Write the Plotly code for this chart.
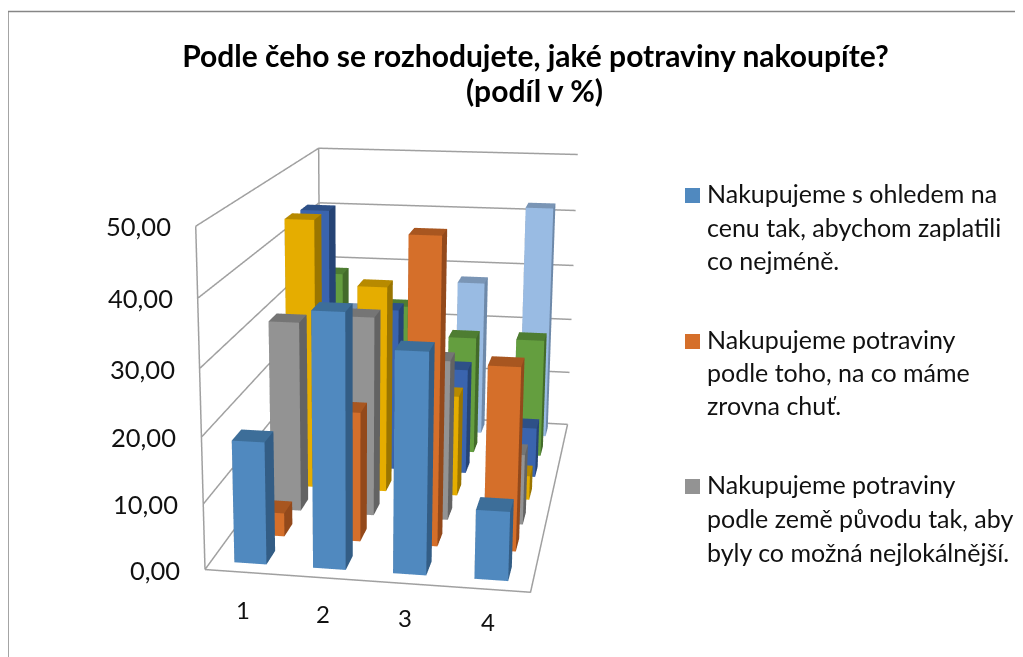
import plotly.graph_objects as go

W, H = 1015, 649   # the page adds an 8 px margin round the figure
OX, OY = 8, 8
categories = ["1", "2", "3", "4"]
blue = [18.6, 38.1, 33.0, 10.4]
orange = [3.7, 20.2, 47.0, 28.3]
gray = [30.6, 31.9, 25.6, 11.3]
yellow = [44.5, 34.1, 16.7, 4.0]
dark_blue = [44.0, 27.7, 18.0, 8.5]
green = [31.0, 25.7, 20.6, 20.7]
light_blue = [22.0, 16.0, 27.8, 41.6]
z_ticks = [0, 10, 20, 30, 40, 50]
title_line1 = "Podle čeho se rozhodujete, jaké potraviny nakoupíte?"
title_line2 = "(podíl v %)"
legend_groups = [
    ["Nakupujeme s ohledem na", "cenu tak, abychom zaplatili", "co nejméně."],
    ["Nakupujeme potraviny", "podle toho, na co máme", "zrovna chuť."],
    ["Nakupujeme potraviny", "podle země původu tak, aby", "byly co možná nejlokálnější."],
]
rows = [blue, orange, gray, yellow, dark_blue, green, light_blue]
front = ["#5089BF", "#D56F2A", "#939393", "#E5AD00", "#3A64AE", "#649E3F", "#99BBE3"]
top = ["#3D6E99", "#A85620", "#757575", "#B78A00", "#2E5087", "#4E7D32", "#7A95B5"]
side = ["#335D85", "#93491B", "#636363", "#9A7500", "#264475", "#436B2A", "#6E89A9"]

# camera and box proportions matched to the reference's projection
E = [0.8694, -2.3341, 1.2986]
C = [0.6390, 0.1915, -0.0376]
U = [-0.0037, 0.0413, 1.0]
ax_, ay_ = 1.0299, 0.8942
kx, ky = 0.0115, 0.3669
cx = 590

n_cat = len(categories); n_rows = len(rows); zmax = z_ticks[-1]
XS, YS, ZS = 3, 3, 2   # ranges widened by these factors so nothing is clipped
kx_d = kx / ax_ * n_cat / zmax
ky_d = ky / ay_ * n_rows / zmax
def sx(x, z): return float(x + kx_d * (z - zmax / 2))
def sy(y, z): return float(y + ky_d * (z - zmax / 2))

bar_w, bar_front, bar_d = 0.41, 0.30, 0.47
def bar_mesh(vals, r_idx):
    xs, ys, zs, I, J_, K, cols = [], [], [], [], [], [], []
    for c, v in enumerate(vals):
        x0, x1 = c + 0.5 - bar_w / 2, c + 0.5 + bar_w / 2
        y0, y1 = r_idx + bar_front, r_idx + bar_front + bar_d
        b = len(xs)
        for zz in (0, v):
            for xx, yy in ((x0, y0), (x1, y0), (x1, y1), (x0, y1)):
                xs.append(sx(xx, zz)); ys.append(sy(yy, zz)); zs.append(zz)
        faces = [((0, 1, 5), front[r_idx]), ((0, 5, 4), front[r_idx]),
                 ((1, 2, 6), side[r_idx]), ((1, 6, 5), side[r_idx]),
                 ((4, 5, 6), top[r_idx]), ((4, 6, 7), top[r_idx]),
                 ((3, 2, 6), side[r_idx]), ((3, 6, 7), side[r_idx]),
                 ((0, 3, 7), side[r_idx]), ((0, 7, 4), side[r_idx]),
                 ((0, 1, 2), side[r_idx]), ((0, 2, 3), side[r_idx])]
        for (a, bb, cc), col in faces:
            I.append(b + a); J_.append(b + bb); K.append(b + cc); cols.append(col)
    return go.Mesh3d(x=xs, y=ys, z=zs, i=I, j=J_, k=K, facecolor=cols, flatshading=True,
                     lighting=dict(ambient=1, diffuse=0, specular=0, fresnel=0),
                     hoverinfo="skip", showlegend=False)

fig = go.Figure()
gx, gy, gz = [], [], []
def seg(pts):
    for (x, y, z) in pts:
        gx.append(sx(x, z)); gy.append(sy(y, z)); gz.append(z)
    gx.append(None); gy.append(None); gz.append(None)
for t in z_ticks:
    seg([(0, 0, t), (0, n_rows, t), (n_cat, n_rows, t)])
seg([(0, 0, 0), (n_cat, 0, 0), (n_cat, n_rows, 0)])
seg([(0, 0, 0), (0, 0, zmax)])
seg([(0, n_rows, 0), (0, n_rows, zmax)])
fig.add_trace(go.Scatter3d(x=gx, y=gy, z=gz, mode="lines", line=dict(color="#A0A0A0", width=3),
                           hoverinfo="skip", showlegend=False))
for i, v in enumerate(rows):
    fig.add_trace(bar_mesh(v, i))

scene_ann = []
for t in z_ticks:
    scene_ann.append(dict(x=sx(0, t), y=sy(0, t), z=t, text=f"{t:.2f}".replace(".", ","), showarrow=False,
                          xanchor="right", xshift=-23, font=dict(family="Lato", size=25.5, color="#111")))
for i, c in enumerate(categories):
    scene_ann.append(dict(x=sx(i + 0.5, 0), y=sy(0, 0), z=0, text=c, showarrow=False,
                          yshift=-37 + 1.5 * i, xshift=-1, font=dict(family="Lato", size=24, color="#111")))
xm, ym, zm = n_cat / 2, n_rows / 2, zmax / 2
dom = min(cx, W - cx)
fig.update_layout(
    width=W, height=H, margin=dict(l=0, r=0, t=0, b=0), paper_bgcolor="white", showlegend=False,
    title=dict(text=title_line1, x=(535.5 - OX) / W, xanchor="center", y=1 - (56 - OY) / H, yanchor="middle",
               font=dict(family="Lato", size=30, color="black", weight="bold")),
    scene=dict(
        domain=dict(x=[(cx - dom) / W, (cx + dom) / W], y=[0, 1]),
        xaxis=dict(visible=False, range=[xm - XS * n_cat / 2, xm + XS * n_cat / 2]),
        yaxis=dict(visible=False, range=[ym - YS * n_rows / 2, ym + YS * n_rows / 2]),
        zaxis=dict(visible=False, range=[zm - ZS * zmax / 2, zm + ZS * zmax / 2]),
        aspectmode="manual", aspectratio=dict(x=ax_ * XS, y=ay_ * YS, z=ZS),
        camera=dict(eye=dict(x=E[0], y=E[1], z=E[2]), center=dict(x=C[0], y=C[1], z=C[2]),
                    up=dict(x=U[0], y=U[1], z=U[2]), projection=dict(type="perspective")),
        annotations=scene_ann))
shapes = [dict(type="line", xref="paper", yref="paper", x0=0, x1=1, y0=1 - 3.5 / H, y1=1 - 3.5 / H,
               line=dict(color="#868686", width=1.5)),
          dict(type="line", xref="paper", yref="paper", x0=0, x1=0, y0=1 - 3.5 / H, y1=0,
               line=dict(color="#868686", width=1.5))]
ann = [dict(x=(534.5 - OX) / W, y=1 - (90 - OY) / H, xref="paper", yref="paper", text=title_line2, showarrow=False,
            xanchor="center", yanchor="middle", font=dict(family="Lato", size=30, color="black", weight="bold"))]
line_ys = [[193, 227, 260], [339, 372, 405], [484, 518, 552]]
sq_cols = [front[0], front[1], front[2]]
for g, ys, col in zip(legend_groups, line_ys, sq_cols):
    for t, y in zip(g, ys):
        ann.append(dict(x=(705 - OX) / W, y=1 - (y - OY) / H, xref="paper", yref="paper", text=t, showarrow=False,
                        xanchor="left", yanchor="middle", font=dict(family="Lato", size=25, color="#111")))
    shapes.append(dict(type="rect", xref="paper", yref="paper", x0=(685 - OX) / W, x1=(700 - OX) / W,
                       y0=1 - (ys[0] - 5 - OY) / H, y1=1 - (ys[0] + 10 - OY) / H, fillcolor=col, line=dict(width=0)))
fig.update_layout(shapes=shapes, annotations=ann)
fig.write_html("out.html")
